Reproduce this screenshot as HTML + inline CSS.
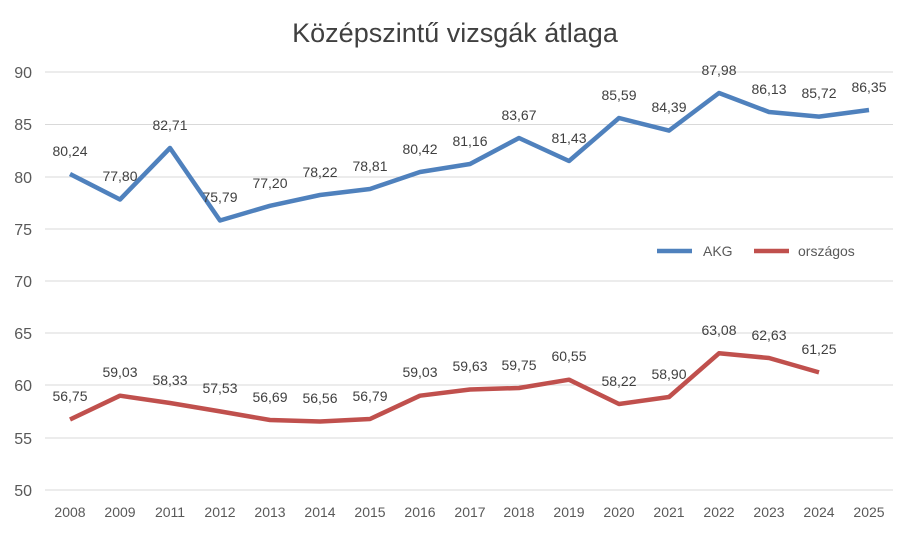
<!DOCTYPE html>
<html><head><meta charset="utf-8"><style>body{margin:0;background:#fff}svg{display:block}text{font-family:"Liberation Sans",sans-serif}</style></head><body>
<svg width="908" height="538" xmlns="http://www.w3.org/2000/svg">
<text x="455" y="42" text-anchor="middle" font-size="27" fill="#404040">Középszintű vizsgák átlaga</text>
<g stroke="#d9d9d9" stroke-width="1">
<line x1="45" x2="893" y1="72" y2="72"/><line x1="45" x2="893" y1="124.5" y2="124.5"/><line x1="45" x2="893" y1="177" y2="177"/><line x1="45" x2="893" y1="229" y2="229"/><line x1="45" x2="893" y1="281" y2="281"/><line x1="45" x2="893" y1="333" y2="333"/><line x1="45" x2="893" y1="385" y2="385"/><line x1="45" x2="893" y1="438" y2="438"/><line x1="45" x2="893" y1="490" y2="490"/>
</g>
<g font-size="16" fill="#595959" text-anchor="end">
<text x="32" y="78">90</text><text x="32" y="130">85</text><text x="32" y="183">80</text><text x="32" y="235">75</text><text x="32" y="287">70</text><text x="32" y="339">65</text><text x="32" y="391">60</text><text x="32" y="444">55</text><text x="32" y="496">50</text>
</g>
<g font-size="14" fill="#595959" text-anchor="middle">
<text x="70" y="517">2008</text><text x="120" y="517">2009</text><text x="170" y="517">2011</text><text x="220" y="517">2012</text><text x="270" y="517">2013</text><text x="320" y="517">2014</text><text x="370" y="517">2015</text><text x="420" y="517">2016</text><text x="470" y="517">2017</text><text x="519" y="517">2018</text><text x="569" y="517">2019</text><text x="619" y="517">2020</text><text x="669" y="517">2021</text><text x="719" y="517">2022</text><text x="769" y="517">2023</text><text x="819" y="517">2024</text><text x="869" y="517">2025</text>
</g>
<polyline fill="none" stroke="#4f81bd" stroke-width="4.5" stroke-linejoin="round" points="70,174 120,199.5 170,148 220,220.5 270,205.8 320,195 370,189 420,172 470,164 519,138 569,161 619,118 669,130.6 719,93 769,112 819,116.6 869,110"/>
<polyline fill="none" stroke="#c0504d" stroke-width="4.5" stroke-linejoin="round" points="70,419.5 120,395.7 170,403 220,411.4 270,420 320,421.5 370,419 420,395.7 470,389.5 519,388 569,379.7 619,404 669,397 719,353.3 769,358 819,372.4"/>
<g font-size="14" fill="#404040" text-anchor="middle">
<text x="70" y="156">80,24</text><text x="120" y="181">77,80</text><text x="170" y="130">82,71</text><text x="220" y="202">75,79</text><text x="270" y="188">77,20</text><text x="320" y="177">78,22</text><text x="370" y="171">78,81</text><text x="420" y="154">80,42</text><text x="470" y="146">81,16</text><text x="519" y="120">83,67</text><text x="569" y="143">81,43</text><text x="619" y="100">85,59</text><text x="669" y="112">84,39</text><text x="719" y="75">87,98</text><text x="769" y="94">86,13</text><text x="819" y="98">85,72</text><text x="869" y="92">86,35</text>
<text x="70" y="401">56,75</text><text x="120" y="377">59,03</text><text x="170" y="385">58,33</text><text x="220" y="393">57,53</text><text x="270" y="402">56,69</text><text x="320" y="403">56,56</text><text x="370" y="401">56,79</text><text x="420" y="377">59,03</text><text x="470" y="371">59,63</text><text x="519" y="370">59,75</text><text x="569" y="361">60,55</text><text x="619" y="386">58,22</text><text x="669" y="379">58,90</text><text x="719" y="335">63,08</text><text x="769" y="340">62,63</text><text x="819" y="354">61,25</text>
</g>
<line x1="657" x2="692" y1="251" y2="251" stroke="#4f81bd" stroke-width="4.5"/>
<text x="703" y="256" font-size="14" fill="#595959">AKG</text>
<line x1="754" x2="789" y1="251" y2="251" stroke="#c0504d" stroke-width="4.5"/>
<text x="798" y="256" font-size="14" fill="#595959">országos</text>
</svg>
</body></html>
